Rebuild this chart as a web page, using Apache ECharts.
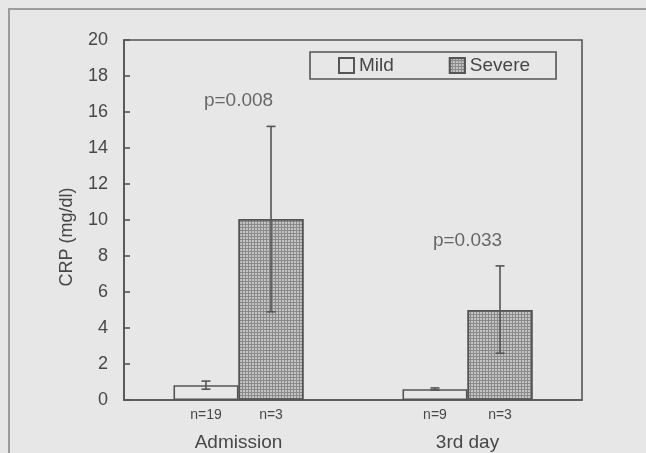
<!DOCTYPE html>
<html>
<head>
<meta charset="utf-8">
<script src="https://cdn.jsdelivr.net/npm/echarts@6/dist/echarts.min.js"></script>
<style>
html,body{margin:0;padding:0;background:#e7e7e7;}
#chart{width:646px;height:453px;}
</style>
</head>
<body>
<div id="chart"></div>
<script>
var categories = ['Admission', '3rd day'];
var mildMean = [0.82, 0.6];
var mildLow = [0.6, 0.55];
var mildHigh = [1.05, 0.67];
var severeMean = [10.05, 5.0];
var severeLow = [4.9, 2.6];
var severeHigh = [15.2, 7.45];
var mildN = ['n=19', 'n=9'];
var severeN = ['n=3', 'n=3'];
var pValues = ['p=0.008', 'p=0.033'];

var ink = '#555555';
var txt = '#474747';
var font = '"Liberation Sans", Arial, sans-serif';

// 误差线
function errBar(side) {
    return function (params, api) {
        var x = api.value(0);
        var band = api.size([1, 0])[0];
        var off = band * 0.142 * side;
        var lo = api.coord([x, api.value(1)]);
        var hi = api.coord([x, api.value(2)]);
        var cx = lo[0] + off;
        var st = {stroke: ink, lineWidth: 1.6};
        return {
            type: 'group',
            children: [
                {type: 'line', shape: {x1: cx, y1: lo[1], x2: cx, y2: hi[1]}, style: st},
                {type: 'line', shape: {x1: cx - 4.5, y1: lo[1], x2: cx + 4.5, y2: lo[1]}, style: st},
                {type: 'line', shape: {x1: cx - 4.5, y1: hi[1], x2: cx + 4.5, y2: hi[1]}, style: st}
            ]
        };
    };
}

var mildErr = [], sevErr = [], pPoints = [];
for (var i = 0; i < categories.length; i++) {
    mildErr.push([i, mildLow[i], mildHigh[i]]);
    sevErr.push([i, severeLow[i], severeHigh[i]]);
    pPoints.push([i, severeHigh[i]]);
}

var chart = echarts.init(document.getElementById('chart'));
chart.setOption({
    backgroundColor: '#e7e7e7',
    animation: false,
    textStyle: {fontFamily: font, color: txt},
    graphic: [{
        type: 'rect',
        shape: {x: 9, y: 9, width: 700, height: 500},
        style: {fill: 'none', stroke: '#9c9c9c', lineWidth: 2},
        silent: true
    }],
    grid: {
        left: 124, right: 64, top: 40, bottom: 53,
        show: true, borderColor: ink, borderWidth: 1.6, backgroundColor: 'transparent'
    },
    legend: {
        data: ['Mild', 'Severe'],
        left: 310, top: 52,
        padding: [4, 26, 4, 28],
        itemGap: 55,
        icon: 'rect',
        itemWidth: 15, itemHeight: 15,
        borderColor: ink, borderWidth: 1.6,
        textStyle: {fontSize: 19, color: txt, fontFamily: font}
    },
    xAxis: {
        type: 'category',
        data: categories,
        axisLine: {lineStyle: {color: ink, width: 1.6}},
        axisTick: {inside: true, length: 5, lineStyle: {color: ink, width: 1.6}},
        axisLabel: {fontSize: 19, color: txt, margin: 33, fontFamily: font}
    },
    yAxis: {
        type: 'value',
        min: 0, max: 20, interval: 2,
        name: 'CRP (mg/dl)',
        nameLocation: 'middle',
        nameGap: 48,
        nameTextStyle: {fontSize: 18, color: txt, fontFamily: font, padding: [0, 34, 0, 0]},
        splitLine: {show: false},
        axisLine: {show: true, lineStyle: {color: ink, width: 1.6}},
        axisTick: {show: true, inside: true, length: 6, lineStyle: {color: ink, width: 1.6}},
        axisLabel: {fontSize: 18, color: txt, margin: 16, fontFamily: font}
    },
    series: [{
        name: 'Mild',
        type: 'bar',
        data: mildMean,
        barWidth: '28.4%',
        barGap: '0%',
        itemStyle: {color: '#e7e7e7', borderColor: ink, borderWidth: 1.6},
        label: {
            show: true, position: 'bottom', distance: 8,
            fontSize: 14, color: txt, fontFamily: font,
            formatter: function (p) { return mildN[p.dataIndex]; }
        }
    }, {
        name: 'Severe',
        type: 'bar',
        data: severeMean,
        barWidth: '28.4%',
        barGap: '0%',
        itemStyle: {
            color: '#8a8a8a', borderColor: ink, borderWidth: 1.6,
            decal: {symbol: 'rect', symbolSize: 1, color: '#c4c4c4', dashArrayX: [2, 1], dashArrayY: [2, 1]}
        },
        label: {
            show: true, position: 'bottom', distance: 8,
            fontSize: 14, color: txt, fontFamily: font,
            formatter: function (p) { return severeN[p.dataIndex]; }
        }
    }, {
        type: 'custom',
        renderItem: errBar(-1),
        data: mildErr,
        encode: {x: 0, y: [1, 2]},
        z: 5, silent: true
    }, {
        type: 'custom',
        renderItem: errBar(1),
        data: sevErr,
        encode: {x: 0, y: [1, 2]},
        z: 5, silent: true
    }, {
        type: 'scatter',
        data: pPoints,
        symbolSize: 0,
        silent: true,
        label: {
            show: true, position: 'top', distance: 16,
            fontSize: 19, color: txt, fontFamily: font,
            formatter: function (p) { return pValues[p.dataIndex]; }
        }
    }]
});
</script>
</body>
</html>
